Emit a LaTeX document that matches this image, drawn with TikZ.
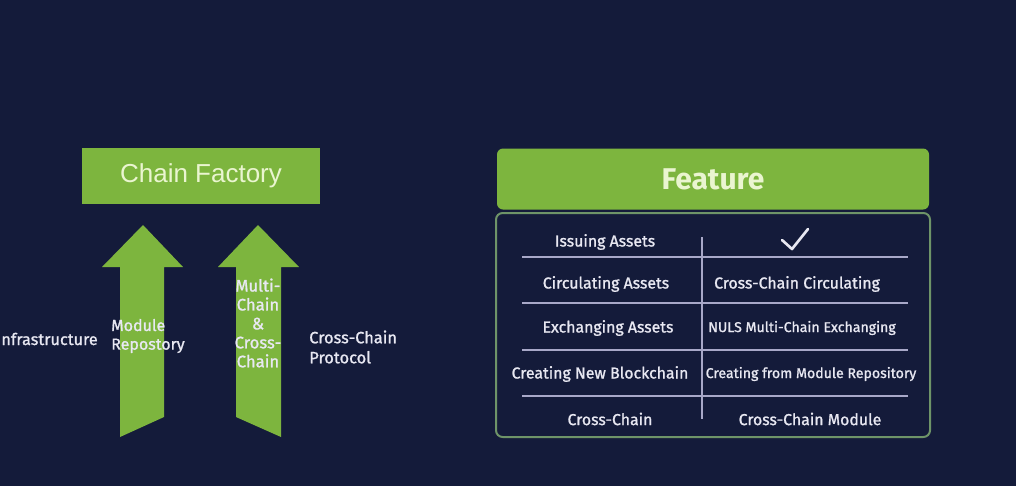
\documentclass[tikz,border=0pt]{standalone}
\usepackage{fontspec}
\setmainfont{Fira Sans}[FakeBold=1.2]
\newfontfamily\titlefont{Liberation Sans}
\newfontfamily\featfont{Fira Sans}
\definecolor{bg}{HTML}{141B3A}
\definecolor{grn}{HTML}{7DB53E}
\definecolor{ttxt}{HTML}{EAF5D0}
\definecolor{wtxt}{HTML}{E8E8F2}
\definecolor{rule}{HTML}{A8A8C8}
\definecolor{frame}{HTML}{6E9468}
\tikzset{
  lbl/.style={text=wtxt, font=\fontsize{12.2pt}{14pt}\selectfont, inner sep=0pt},
  cell/.style={text=wtxt, font=\fontsize{11.9pt}{14pt}\selectfont, inner sep=0pt},
  cellsm/.style={text=wtxt, font=\fontsize{10.6pt}{14pt}\selectfont, inner sep=0pt},
  hrule/.style={draw=rule, line width=1.5pt},
  arrowshape/.style={fill=grn, draw=none},
}
\begin{document}
\begin{tikzpicture}[x=0.75pt,y=-0.75pt]
\useasboundingbox (0,0) rectangle (1016,486);
\fill[bg] (0,0) rectangle (1016,486);
% Chain Factory
\node[fill=grn, minimum width=238*0.75pt, minimum height=56*0.75pt, inner sep=0pt,
  text=ttxt, font=\titlefont\fontsize{19.5pt}{22pt}\selectfont] (cf) at (201,176) {Chain Factory};
% arrows
\fill[arrowshape] (143,225) -- (183,267) -- (164,267) -- (164,417) -- (120,437) -- (120,267) -- (102,267) -- cycle;
\fill[arrowshape] (258,225) -- (299,267) -- (281,267) -- (281,437) -- (236,417) -- (236,267) -- (218,267) -- cycle;
% labels
\node[lbl, anchor=east] (infra) at (98,339) {Infrastructure};
\node[lbl, anchor=west, align=left, font=\fontsize{12pt}{14pt}\selectfont] (mod) at (111,336) {Module\\Repostory};
\node[lbl, align=center, font=\fontsize{12.5pt}{14.2pt}\selectfont] (mc) at (258,323) {Multi-\\Chain\\\&\\Cross-\\Chain};
\node[lbl, anchor=west, align=left, font=\fontsize{12.3pt}{15pt}\selectfont] (ccp) at (309,347) {Cross-Chain\\Protocol};
% Feature
\node[fill=grn, rounded corners=4.5pt, minimum width=432*0.75pt, minimum height=61*0.75pt, inner sep=0pt,
  text=ttxt, font=\featfont\bfseries\fontsize{22.5pt}{25pt}\selectfont] (feat) at (713,179) {Feature};
\node[draw=frame, line width=1.5pt, rounded corners=5pt, minimum width=434*0.75pt, minimum height=224*0.75pt, inner sep=0pt] (tbl) at (713,325) {};
% grid
\coordinate (vt) at (702,237);
\coordinate (vb) at (702,419);
\draw[hrule] (vt) -- (vb);
\foreach \y in {257,303,350,396} {\draw[hrule] (522,\y) -- (908,\y);}
% cells
\node[cell] (l1) at (605,242) {Issuing Assets};
\node[cell] (l2) at (606,284) {Circulating Assets};
\node[cell] (l3) at (608,328) {Exchanging Assets};
\node[cell] (l4) at (600,374) {Creating New Blockchain};
\node[cell] (l5) at (610,419) {Cross-Chain};
\draw[wtxt, line width=2pt, line cap=round, line join=round] (782,240) -- (792,249) -- (808,229);
\node[cell] (r2) at (797,284) {Cross-Chain Circulating};
\node[cellsm] (r3) at (802,328) {NULS Multi-Chain Exchanging};
\node[cellsm] (r4) at (811,374) {Creating from Module Repository};
\node[cell] (r5) at (810,419) {Cross-Chain Module};
\end{tikzpicture}
\end{document}
